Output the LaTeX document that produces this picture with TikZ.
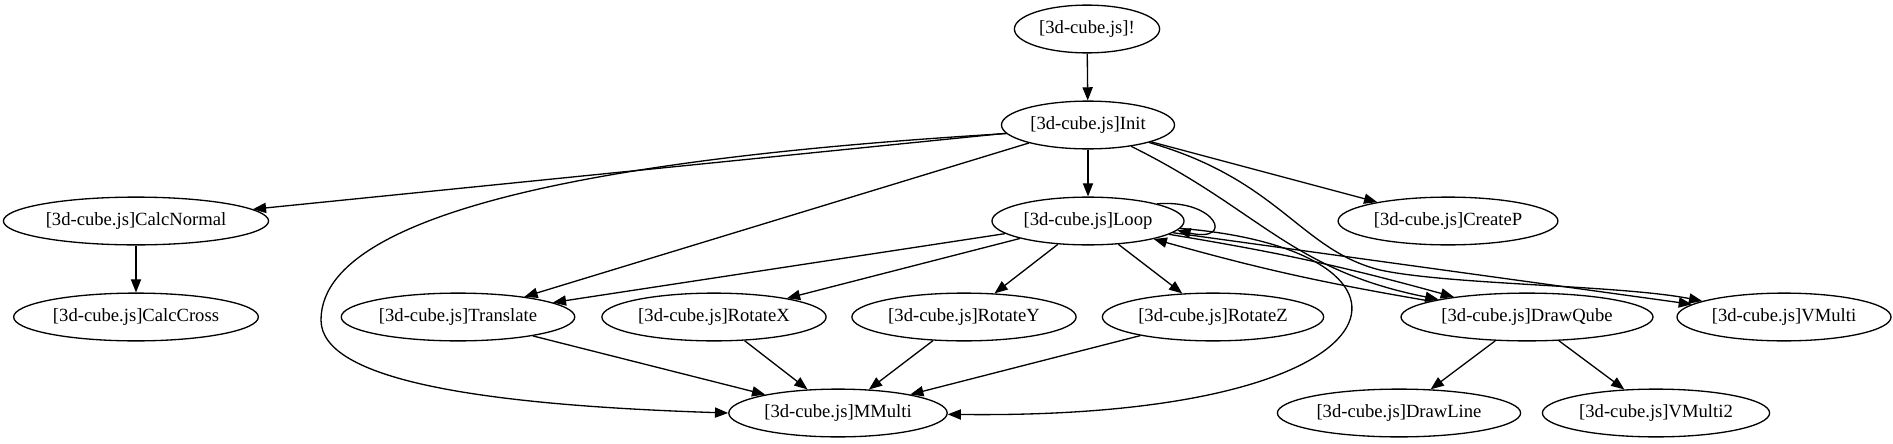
\documentclass[tikz,border=0pt]{standalone}
\usepackage{fontspec}
\setmainfont{Liberation Serif}
\usetikzlibrary{shapes.geometric,arrows.meta}
\tikzset{
  fn/.style={draw, ellipse, line width=0.75pt, minimum height=27.2pt, inner xsep=2pt,
    font=\fontsize{10.6}{12}\selectfont},
  edge/.style={line width=0.75pt, -{Triangle[length=7.5pt,width=5.8pt]}}
}
\begin{document}
\begin{tikzpicture}[x=0.02cm,y=-0.02cm]
      \useasboundingbox (0,0) rectangle (1893,443);
      \node[fn] (start) at (1087,29) {[3d-cube.js]!};
      \foreach \n/\x/\y in {Init/1088/125,CalcNormal/136/221,Loop/1088/221,CreateP/1448/221,
          CalcCross/136/317,Translate/458/317,RotateX/714/317,RotateY/964/317,RotateZ/1213/317,
          DrawQube/1527/317,VMulti/1784/317,MMulti/838/413,DrawLine/1399/413,VMulti2/1656/413} {
        \node[fn] (\n) at (\x,\y) {[3d-cube.js]\n};
      }
      \foreach \a/\b in {start/Init,Init/CalcNormal,Init/Translate,Init/Loop,Init/CreateP,
          CalcNormal/CalcCross,Loop/Translate,Loop/RotateX,Loop/RotateY,Loop/RotateZ,Loop/VMulti,
          Translate/MMulti,RotateX/MMulti,RotateY/MMulti,RotateZ/MMulti,
          DrawQube/DrawLine,DrawQube/VMulti2} {
        \draw[edge] (\a) -- (\b);
      }
      \draw[edge] (Loop) to[bend left=3] (DrawQube);
      \draw[edge] (DrawQube) to[bend left=3] (Loop);
      \draw[edge] (Loop.14) .. controls (1217,199) and (1235,243) .. (Loop.-6);
      \draw[edge] (Init.186) .. controls (700,152) and (321,195) .. (321,320)
        .. controls (321,380) and (480,405) .. (MMulti.west);
      \draw[edge] (Loop) .. controls (1450,250) and (1420,420) .. (MMulti);
      \draw[edge] (Init) .. controls (1260,210) and (1290,270) .. (DrawQube);
      \draw[edge] (Init) .. controls (1280,180) and (1300,250) .. (1380,270)
        .. controls (1450,285) and (1620,285) .. (VMulti);
    \end{tikzpicture}
\end{document}
